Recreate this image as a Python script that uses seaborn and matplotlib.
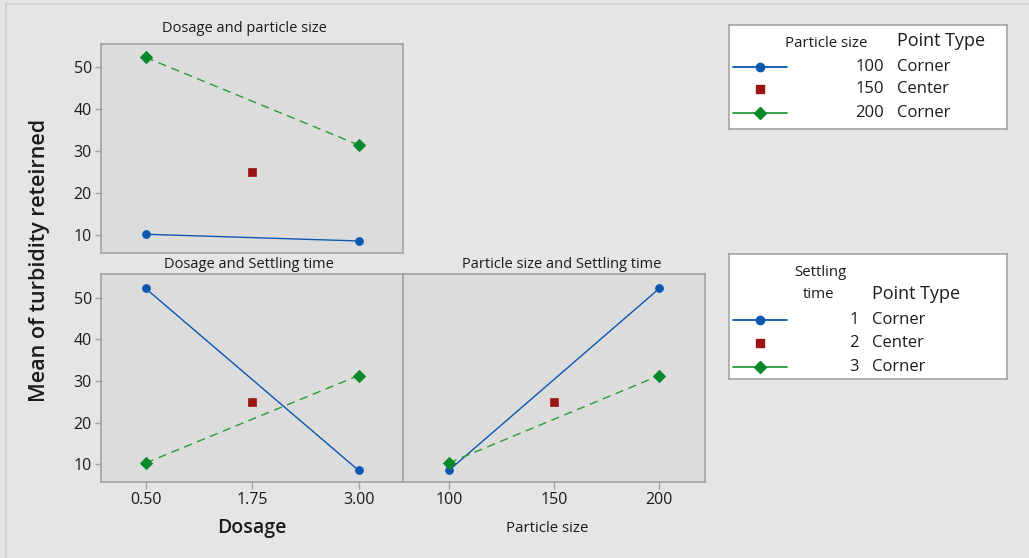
import matplotlib
matplotlib.use("Agg")
import matplotlib.pyplot as plt
import seaborn as sns
import numpy as np
import pandas as pd
from matplotlib.patches import Rectangle

# Werte
dosage = [0.5, 3.0]
particle = [100, 200]
dosage_ticks = [0.5, 1.75, 3.0]
dosage_labels = ["0.50", "1.75", "3.00"]
particle_ticks = [100, 150, 200]
y_ticks = [10, 20, 30, 40, 50]

center_dosage = 1.75
center_particle = 150
center_value = 25.0

dp_100 = [10.2, 8.6]     # Dosage x particle size, particle size 100
dp_200 = [52.4, 31.5]    # particle size 200
ds_1 = [52.2, 8.5]       # Dosage x settling time, settling time 1
ds_3 = [10.3, 31.3]      # settling time 3
ps_1 = [8.5, 52.2]       # Particle size x settling time, settling time 1
ps_3 = [10.3, 31.3]      # settling time 3

particle_levels = ["100", "150", "200"]
settling_levels = ["1", "2", "3"]
point_types = ["Corner", "Center", "Corner"]

BLUE = "#0b57b0"
RED = "#9a1414"
GREEN = "#0a8a2a"
GREEN_LINE = "#2a9a3a"
BG = "#e5e5e5"
PANEL = "#dcdcdc"
EDGE = "#a3a3a3"
TXT = "#1c1c1c"

sns.set_style("white")
plt.rcParams["font.family"] = ["Open Sans", "DejaVu Sans"]

W, H = 1029, 558
fig = plt.figure(figsize=(W / 100, H / 100), dpi=100, facecolor=BG)


def px_axes(left, top, right, bottom):
    return fig.add_axes([left / W, 1 - bottom / H, (right - left) / W, (bottom - top) / H])


# Rahmen um das Ganze
fig.patches.append(Rectangle((6 / W, -0.1), 1.2, (1 - 4 / H) + 0.1, transform=fig.transFigure,
                             facecolor="none", edgecolor="#cfcfcf", lw=1.2))

ax_top = px_axes(101, 44, 403.3, 252.7)
ax_bl = px_axes(101, 274.3, 403.3, 481.7)
ax_br = px_axes(403.3, 274.3, 705, 481.7)

dash = (0, (6, 4))


def draw_series(ax, x, y, color, marker, ms, ls, lcolor=None):
    sns.lineplot(x=x, y=y, ax=ax, color=lcolor or color, linestyle=ls, lw=1.0,
                 marker=marker, markersize=ms, markerfacecolor=color,
                 markeredgecolor=color, errorbar=None)


def draw_center(ax, x):
    sns.scatterplot(x=[x], y=[center_value], ax=ax, marker="s", s=30, color=RED,
                    edgecolor=RED, linewidth=0.5, zorder=5)


draw_series(ax_top, dosage, dp_100, BLUE, "o", 5.5, "-")
draw_series(ax_top, dosage, dp_200, GREEN, "D", 6.5, dash, GREEN_LINE)
draw_center(ax_top, center_dosage)

draw_series(ax_bl, dosage, ds_1, BLUE, "o", 5.5, "-")
draw_series(ax_bl, dosage, ds_3, GREEN, "D", 6.5, dash, GREEN_LINE)
draw_center(ax_bl, center_dosage)

draw_series(ax_br, particle, ps_1, BLUE, "o", 5.5, "-")
draw_series(ax_br, particle, ps_3, GREEN, "D", 6.5, dash, GREEN_LINE)
draw_center(ax_br, center_particle)

ylim = (5.8, 55.6)
for ax in (ax_top, ax_bl, ax_br):
    ax.set_facecolor(PANEL)
    ax.set_ylim(*ylim)
    ax.set_xlabel("")
    ax.set_ylabel("")
    for s in ax.spines.values():
        s.set_color(EDGE)
        s.set_linewidth(1.2)
    ax.tick_params(colors=EDGE, labelcolor=TXT, labelsize=11.5, length=4, width=1, pad=2.5)

for ax in (ax_top, ax_bl):
    ax.set_xlim(0.5 - 0.524, 3.0 + 0.524)
    ax.set_yticks(y_ticks)
    ax.tick_params(axis="y", left=True, labelleft=True)
ax_br.set_xlim(78.4, 221.7)
ax_br.set_yticks([])

ax_top.set_xticks([])
ax_bl.set_xticks(dosage_ticks)
ax_bl.set_xticklabels(dosage_labels)
ax_bl.tick_params(axis="x", bottom=True, length=5)
ax_br.set_xticks(particle_ticks)
ax_br.tick_params(axis="x", bottom=True, length=5)

ax_top.text(0.473, 1 + 15.7 / 208.7, "Dosage and particle size", transform=ax_top.transAxes,
            ha="center", va="center", fontsize=10.5, color=TXT)
ax_bl.text(0.49, 1 + 10 / 207.4, "Dosage and Settling time", transform=ax_bl.transAxes,
           ha="center", va="center", fontsize=10.5, color=TXT)
ax_br.text(0.525, 1 + 10 / 207.4, "Particle size and Settling time", transform=ax_br.transAxes,
           ha="center", va="center", fontsize=10.5, color=TXT)

fig.text(40 / W, 1 - 260 / H, "Mean of turbidity reteirned", rotation=90, ha="center",
         va="center", fontsize=15.5, fontweight="semibold", color=TXT)
fig.text(252 / W, 1 - 528 / H, "Dosage", ha="center", va="center", fontsize=14,
         fontweight="semibold", color=TXT)
fig.text(547 / W, 1 - 528 / H, "Particle size", ha="center", va="center", fontsize=10.8,
         color=TXT)


def legend_box(left, top, right, bottom, header, header_pos, num_x, type_x, type_y, rows_y, levels):
    lax = px_axes(left, top, right, bottom)
    lax.set_xlim(0, right - left)
    lax.set_ylim(bottom - top, 0)
    lax.set_facecolor("white")
    lax.set_xticks([])
    lax.set_yticks([])
    for s in lax.spines.values():
        s.set_color(EDGE)
        s.set_linewidth(1.2)
    for (line, hy) in zip(header, header_pos):
        lax.text(hy[0], hy[1], line, ha="center", va="center", fontsize=10.8, color=TXT)
    lax.text(type_x, type_y, "Point Type", ha="left", va="center", fontsize=13, color=TXT)
    styles = [(BLUE, BLUE, "o", 6, "-"), (RED, None, "s", 6, None), (GREEN, GREEN_LINE, "D", 6.5, "-")]
    for (lvl, pt, ry, st) in zip(levels, point_types, rows_y, styles):
        mcol, lcol, mk, ms, ls = st
        if lcol is not None:
            lax.plot([4, 58], [ry, ry], color=lcol, lw=1.3, ls=ls)
        lax.plot([31], [ry], marker=mk, markersize=ms, color=mcol, ls="none")
        lax.text(num_x, ry, lvl, ha="right", va="center", fontsize=12, color=TXT)
        lax.text(type_x, ry, pt, ha="left", va="center", fontsize=12, color=TXT)
    return lax


legend_box(729.3, 24.7, 1007, 129, ["Particle size"], [(97, 19)], 155, 168, 16,
           [42, 64.6, 88.6], particle_levels)
legend_box(729, 254, 1007, 379, ["Settling", "time"], [(91, 19), (90, 40)], 130, 143, 40,
           [66, 89, 113], settling_levels)

fig.savefig("out.png", dpi=100, facecolor=BG)
